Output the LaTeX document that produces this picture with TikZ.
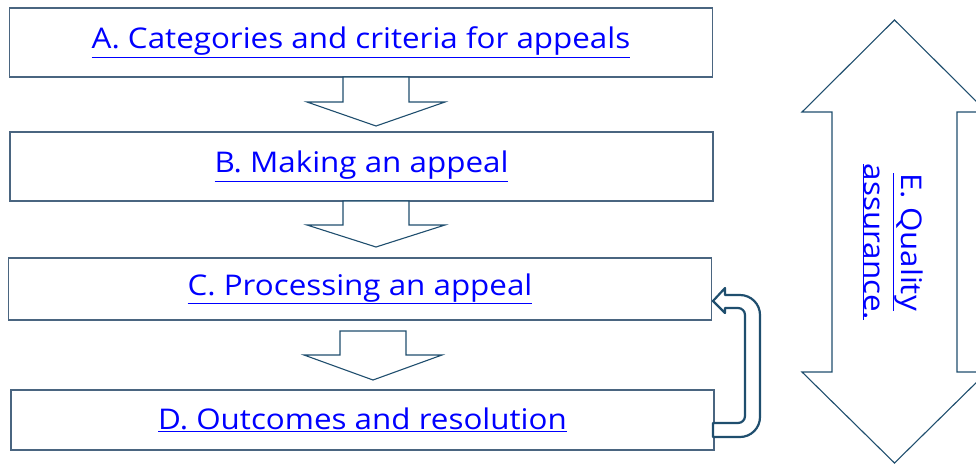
\documentclass[tikz,border=0pt]{standalone}
\usepackage{fontspec}
\setmainfont{Open Sans}[FakeStretch=1.1]
\usepackage{xcolor}
\definecolor{boxline}{HTML}{4A6580}
\definecolor{arrowline}{HTML}{1F4E6E}
\definecolor{linkblue}{HTML}{0000FF}

\tikzset{
  stagetext/.style={text=linkblue, font=\fontsize{28.5}{37}\selectfont},
  stagebox/.style={stagetext, draw=boxline, line width=1.1pt, minimum width=703pt},
  blockarrow/.style={draw=arrowline, line width=1.1pt, fill=white},
  loopline/.style={draw=arrowline, line width=2.2pt, fill=white, line join=round},
}

\begin{document}
\begin{tikzpicture}[x=1pt,y=-1pt]
	\useasboundingbox (0,0) rectangle (976,464);
	%% stage boxes
	\node[stagebox, minimum height=69pt] (boxA) at (361,42.5) {\underline{A. Categories and criteria for appeals}};
	\node[stagebox, minimum height=69pt] (boxB) at (361.5,166.5) {\underline{B. Making an appeal}};
	\node[stagebox, minimum height=62pt] (boxC) at (360,289) {\underline{C. Processing an appeal}};
	\node[stagebox, minimum height=60pt] (boxD) at (362.5,420) {\underline{D. Outcomes and resolution}};
	%% down arrows
	\foreach \x/\top/\base/\tip in {376/77/102/126, 376/201/225/247, 373/331/355/380}
	  \draw[blockarrow] (\x-33,\top) -- (\x+33,\top) -- (\x+33,\base) -- (\x+69,\base)
	    -- (\x,\tip) -- (\x-69,\base) -- (\x-33,\base) -- cycle;
	%% loop back from D to C
	\draw[loopline] (713,423) -- (738,423) arc (90:0:7) -- (745,315) arc (0:-90:7)
	  -- (725,308) -- (725,313) -- (713,301) -- (725,288) -- (725,295)
	  -- (740,295) arc (-90:0:20) -- (760,417) arc (0:90:20) -- (713,437) -- cycle;
	%% quality assurance arrow
	\draw[blockarrow] (894.5,20) -- (987,112) -- (957,112) -- (957,372) -- (987,372)
	  -- (894.5,463) -- (802,372) -- (832,372) -- (832,112) -- (802,112) -- cycle;
	\node[stagetext, rotate=-90, align=center] (boxE) at (893,242)
	  {\underline{E. Quality}\\\underline{assurance.}};
\end{tikzpicture}
\end{document}
